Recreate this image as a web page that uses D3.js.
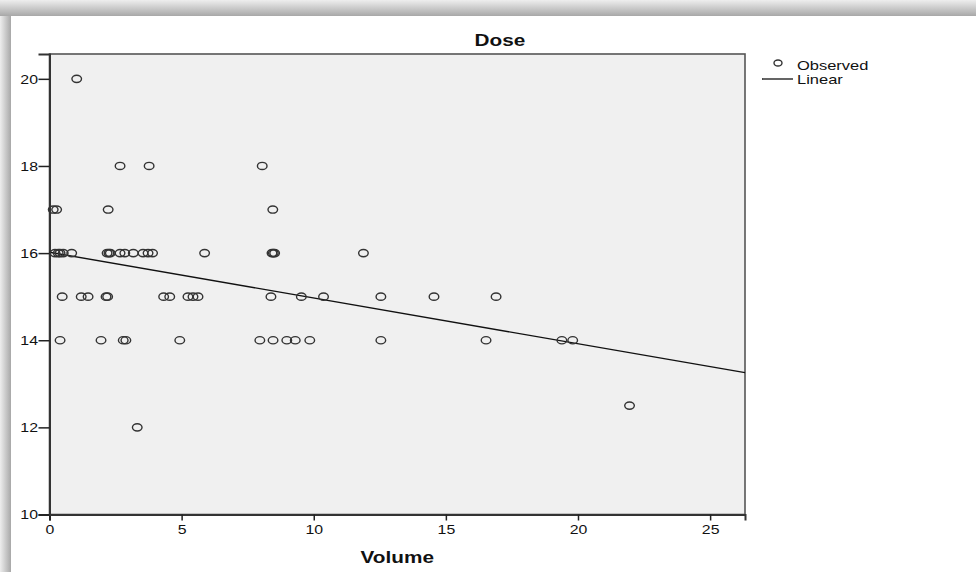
<!DOCTYPE html>
<html>
<head>
<meta charset="utf-8">
<script src="https://cdn.jsdelivr.net/npm/d3@7/dist/d3.min.js"></script>
<style>
  body { margin: 0; background: #fff; }
  svg text { font-family: "Liberation Sans", Arial, sans-serif; fill: #111; }
</style>
</head>
<body>
<div class="canvas"></div>
<script>
// observed volumes, one array per dose level
const volDose20 = [1.03];
const volDose18 = [2.67, 3.77, 8.05];
const volDose17 = [0.14, 0.27, 2.22, 8.45];
const volDose16 = [0.21, 0.33, 0.40, 0.52, 0.84, 2.18, 2.25, 2.30, 2.67, 2.85, 3.17, 3.54, 3.73, 3.90, 5.87, 8.42, 8.47, 8.52, 11.88];
const volDose15 = [0.48, 1.20, 1.46, 2.14, 2.20, 4.32, 4.55, 5.24, 5.43, 5.62, 8.38, 9.53, 10.37, 12.54, 14.55, 16.90];
const volDose14 = [0.40, 1.95, 2.79, 2.89, 4.93, 7.96, 8.46, 8.98, 9.30, 9.85, 12.54, 16.52, 19.39, 19.80];
const volDose12_5 = [21.95];
const volDose12 = [3.32];

const doseLevels = [20, 18, 17, 16, 15, 14, 12.5, 12];
const volumeGroups = [volDose20, volDose18, volDose17, volDose16, volDose15, volDose14, volDose12_5, volDose12];

// linear fit (Dose = b0 + b1 * Volume)
const fitIntercept = 16.02;
const fitSlope = -0.105;

const xTicks = [0, 5, 10, 15, 20, 25];
const yTicks = [10, 12, 14, 16, 18, 20];
const legendLabels = ['Observed', 'Linear'];

// flatten into points
const points = [];
volumeGroups.forEach((vols, i) => {
  vols.forEach(v => points.push({ volume: v, dose: doseLevels[i] }));
});

const W = 976, H = 572;
const plot = { left: 49.5, right: 745, top: 54, bottom: 514.5 };
const xMax = 26.32, yMax = 20.57;

const svg = d3.select('.canvas')
  .append('svg')
  .attr('width', W)
  .attr('height', H);

// window frame shadow (top and left)
const defs = svg.append('defs');
const gTop = defs.append('linearGradient').attr('id', 'shTop')
  .attr('x1', 0).attr('y1', 0).attr('x2', 0).attr('y2', 1);
gTop.append('stop').attr('offset', '0%').attr('stop-color', '#eeeeee');
gTop.append('stop').attr('offset', '100%').attr('stop-color', '#a8a8a8');
const gLeft = defs.append('linearGradient').attr('id', 'shLeft')
  .attr('x1', 0).attr('y1', 0).attr('x2', 1).attr('y2', 0);
gLeft.append('stop').attr('offset', '0%').attr('stop-color', '#eeeeee');
gLeft.append('stop').attr('offset', '100%').attr('stop-color', '#a8a8a8');

svg.append('rect').attr('width', W).attr('height', H).attr('fill', '#fff');
svg.append('rect').attr('x', 0).attr('y', 0).attr('width', W).attr('height', 16).attr('fill', 'url(#shTop)');
svg.append('rect').attr('x', 0).attr('y', 16).attr('width', 11).attr('height', H - 16).attr('fill', 'url(#shLeft)');

// scales
const x = d3.scaleLinear().domain([0, xMax]).range([plot.left, plot.right]);
const y = d3.scaleLinear().domain([10, yMax]).range([plot.bottom, plot.top]);

// plot background
svg.append('rect')
  .attr('x', plot.left).attr('y', plot.top)
  .attr('width', plot.right - plot.left).attr('height', plot.bottom - plot.top)
  .attr('fill', '#f0f0f0')
  .attr('stroke', '#555')
  .attr('stroke-width', 1.6);

// axes
const xAxis = svg.append('g')
  .attr('transform', `translate(0, ${plot.bottom})`)
  .call(d3.axisBottom(x).tickValues(xTicks).tickSize(6).tickPadding(4).tickFormat(d3.format('d')));
const yAxis = svg.append('g')
  .attr('transform', `translate(${plot.left}, 0)`)
  .call(d3.axisLeft(y).tickValues(yTicks).tickSize(11).tickPadding(0.5).tickFormat(d3.format('d')));

[xAxis, yAxis].forEach(ax => {
  ax.select('.domain').attr('stroke', '#333').attr('stroke-width', 2);
  ax.selectAll('.tick line').attr('stroke', '#222').attr('stroke-width', 1.5);
  ax.selectAll('.tick text')
    .attr('font-size', 13)
    .attr('fill', '#111')
    .attr('class', 'stretch')
    .style('font-family', '"Liberation Sans", Arial, sans-serif');
});

// fit line
svg.append('line')
  .attr('x1', x(0)).attr('y1', y(fitIntercept))
  .attr('x2', x(xMax)).attr('y2', y(fitIntercept + fitSlope * xMax))
  .attr('stroke', '#111')
  .attr('stroke-width', 1.4);

// observed points (the original picture is stretched sideways, so ellipses)
svg.append('g').selectAll('ellipse')
  .data(points)
  .enter()
  .append('ellipse')
  .attr('cx', d => x(d.volume))
  .attr('cy', d => y(d.dose))
  .attr('rx', 4.8)
  .attr('ry', 3.6)
  .attr('fill', 'none')
  .attr('stroke', '#333')
  .attr('stroke-width', 1.4);

// titles
svg.append('text')
  .attr('class', 'stretch')
  .attr('x', 500).attr('y', 46)
  .attr('text-anchor', 'middle')
  .attr('font-size', 17)
  .attr('font-weight', 'bold')
  .text('Dose');

svg.append('text')
  .attr('class', 'stretch')
  .attr('x', (plot.left + plot.right) / 2).attr('y', 563)
  .attr('text-anchor', 'middle')
  .attr('font-size', 17)
  .attr('font-weight', 'bold')
  .text('Volume');

// legend
const legend = svg.append('g').attr('transform', 'translate(762, 63)');
legend.append('ellipse')
  .attr('cx', 16).attr('cy', 0).attr('rx', 4).attr('ry', 3)
  .attr('fill', 'none').attr('stroke', '#333').attr('stroke-width', 1.4);
legend.append('line')
  .attr('x1', 0).attr('x2', 31).attr('y1', 16).attr('y2', 16)
  .attr('stroke', '#111').attr('stroke-width', 1.3);
legend.selectAll('text')
  .data(legendLabels)
  .enter()
  .append('text')
  .attr('class', 'stretch')
  .attr('x', 35)
  .attr('y', (d, i) => 7 + i * 13.5)
  .attr('font-size', 13.5)
  .text(d => d);

// widen every label a bit to match the stretched original
svg.selectAll('text.stretch').each(function() {
  const w = this.getComputedTextLength();
  d3.select(this)
    .attr('textLength', w * 1.22)
    .attr('lengthAdjust', 'spacingAndGlyphs');
});
</script>
</body>
</html>
